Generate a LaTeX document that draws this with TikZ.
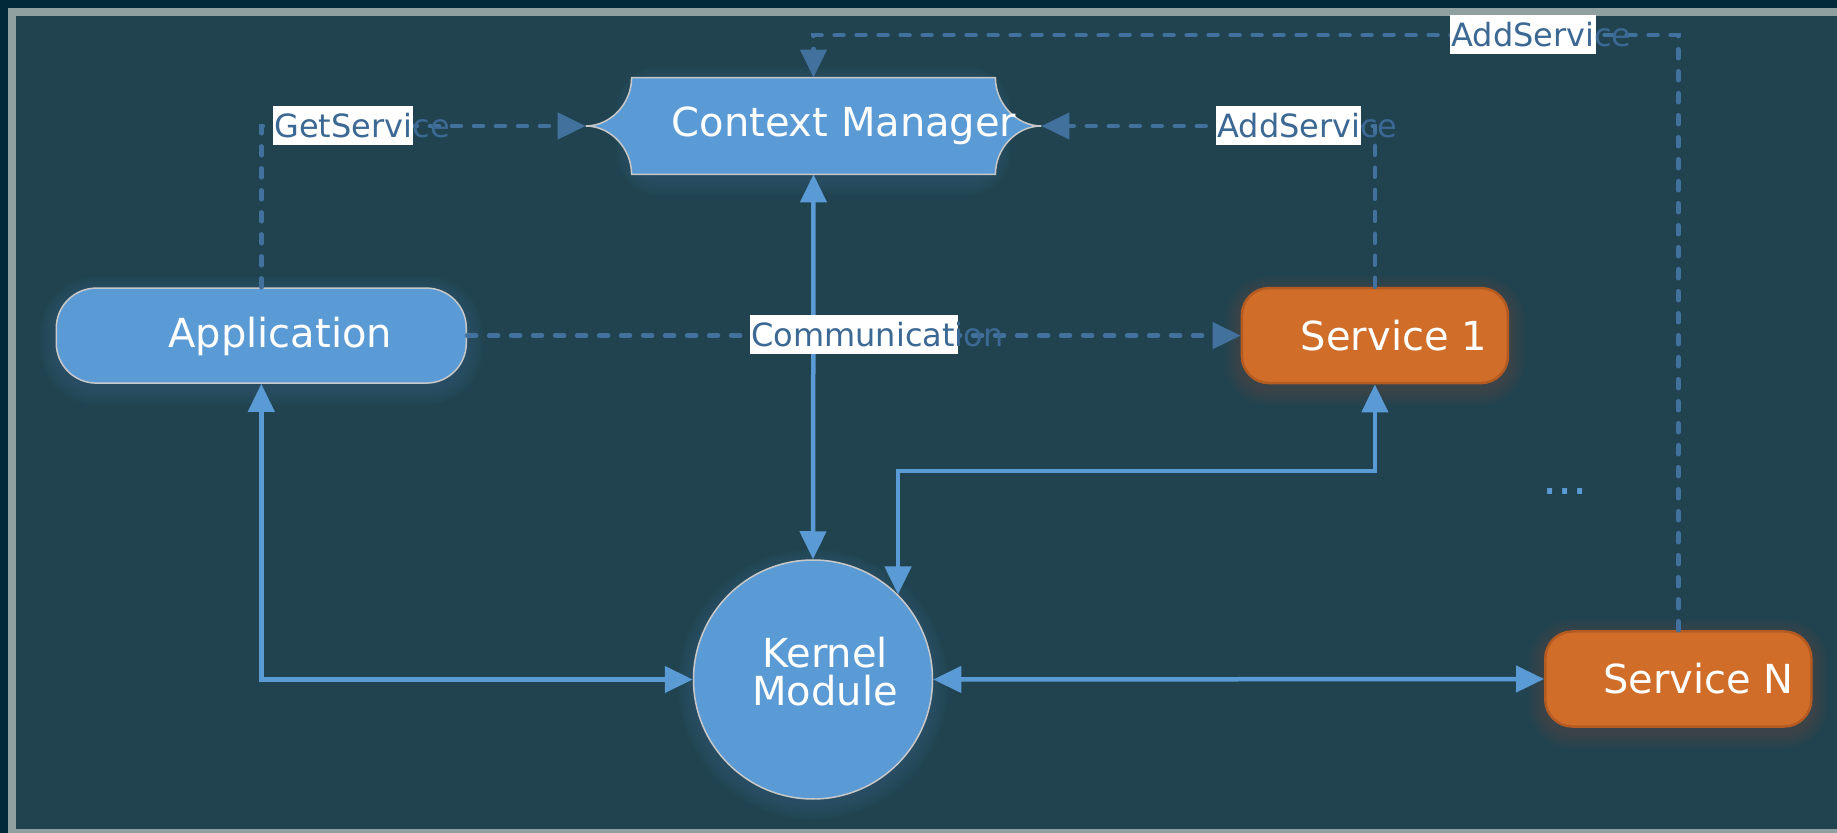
\documentclass[tikz,border=0pt]{standalone}
\usepackage{fontspec}
\setmainfont{DejaVu Sans}
\usetikzlibrary{arrows.meta,calc}
\definecolor{outerbg}{HTML}{02293A}
\definecolor{framegray}{HTML}{909F9F}
\definecolor{innerbg}{HTML}{20434F}
\definecolor{nodeblue}{HTML}{5B9BD5}
\definecolor{nodeedge}{HTML}{C8C8C8}
\definecolor{orangefill}{HTML}{D06D29}
\definecolor{orangeedge}{HTML}{B55B22}
\definecolor{dashblue}{HTML}{41719C}
\definecolor{labtext}{HTML}{3C6894}
\pgfdeclarelayer{bg}
\pgfdeclarelayer{shp}
\pgfsetlayers{bg,shp,main}
\begin{document}
\begin{tikzpicture}[x=0.5pt,y=-0.5pt,
  bigfont/.style={font=\fontsize{20}{19}\selectfont},
  bluebox/.style={draw=nodeedge, line width=0.75pt, fill=nodeblue, text=white, bigfont,
    rounded corners=20pt, minimum width=205pt, minimum height=47.5pt, inner sep=0pt},
  orangebox/.style={draw=orangeedge, line width=1.25pt, fill=orangefill, text=white, bigfont,
    rounded corners=13.5pt, minimum width=133pt, minimum height=47.5pt, inner sep=0pt},
  kernelnode/.style={circle, draw=nodeedge, line width=0.75pt, fill=nodeblue, text=white, bigfont,
    minimum size=119.5pt, inner sep=0pt, align=center, text depth=7.7pt},
  cmnode/.style={rectangle, draw=none, text=white, bigfont, minimum width=227.5pt, minimum height=48pt, inner sep=0pt},
  cmshape/.style={draw=nodeedge, line width=0.75pt, fill=nodeblue},
  glowfill/.style={fill=#1, opacity=0.024},
  solidc/.style={draw=nodeblue, line width=2.25pt, {Triangle[length=14pt,width=13pt]}-{Triangle[length=14pt,width=13pt]}},
  dashc/.style={draw=dashblue, line width=2.25pt, line cap=round, dash pattern=on 4.5pt off 6.5pt, -{Triangle[length=14pt,width=13pt]}},
  lab/.style={fill=white, text=labtext, font=\fontsize{16}{19}\selectfont, inner xsep=0.5pt, inner ysep=0pt,
    minimum height=19.5pt, anchor=west},
  dotsnode/.style={text=nodeblue, font=\fontsize{24}{24}\selectfont, inner sep=0pt, anchor=base west}
]
\useasboundingbox (0,0) rectangle (1837,833);
\begin{pgfonlayer}{bg}
  \fill[outerbg] (0,0) rectangle (1837,833);
  \draw[framegray, line width=4pt, fill=innerbg] (12,12) rectangle (1845,833);
\end{pgfonlayer}

% nodes
\node[cmnode] (cm) at (813.5,126) {\hspace*{30.5pt}Context Manager};
\begin{pgfonlayer}{shp}
\path[cmshape] ($(cm.north west)+(46,0)$) -- ($(cm.north east)+(-46,0)$)
  .. controls +(0,26) and +(-25,0) .. (cm.east)
  .. controls +(-25,0) and +(0,-26) .. ($(cm.south east)+(-46,0)$)
  -- ($(cm.south west)+(46,0)$)
  .. controls +(0,-26) and +(25,0) .. (cm.west)
  .. controls +(25,0) and +(0,26) .. ($(cm.north west)+(46,0)$) -- cycle;
\end{pgfonlayer}
\node[bluebox, text depth=3.7pt] (app) at (261.3,335.6) {\hspace*{19pt}Application};
\node[orangebox] (s1) at (1374.9,335.6) {\hspace*{19pt}Service 1};
\node[orangebox] (sn) at (1678.3,679) {\hspace*{20pt}Service N};
\node[kernelnode] (km) at (813,679.5) {\hspace*{12pt}Kernel\\\hspace*{12pt}Module};
\node[dotsnode] (dots) at (1542,495) {...};

% soft glow below the shapes
\begin{pgfonlayer}{bg}
\foreach \k in {1,...,8} {
  \pgfmathsetmacro{\ra}{20+\k}
  \pgfmathsetmacro{\rb}{13.5+\k}
  \pgfmathsetmacro{\rc}{119.5+2*\k}
  \fill[glowfill=nodeblue, rounded corners=\ra pt]
    ($(app.north west)+(-2*\k,-2*\k+5)$) rectangle ($(app.south east)+(2*\k,2*\k+5)$);
  \fill[glowfill=orangefill, rounded corners=\rb pt]
    ($(s1.north west)+(-2*\k,-2*\k+5)$) rectangle ($(s1.south east)+(2*\k,2*\k+5)$);
  \fill[glowfill=orangefill, rounded corners=\rb pt]
    ($(sn.north west)+(-2*\k,-2*\k+5)$) rectangle ($(sn.south east)+(2*\k,2*\k+5)$);
  \fill[glowfill=nodeblue] ($(km.center)+(0,5)$) circle[radius=\rc];
  \fill[glowfill=nodeblue, rounded corners=\rb pt]
    ($(cm.north west)+(46-2*\k,-2*\k+5)$) rectangle ($(cm.south east)+(-46+2*\k,2*\k+5)$);
}
\end{pgfonlayer}

% connectors
\coordinate (topy) at (813.5,35);
\coordinate (jn) at (1100,471);
\draw[dashc] (app.north) |- (cm.west);
\draw[dashc] (s1.north) |- (cm.east);
\draw[dashc] (sn.north) |- (topy) -- (cm.north);
\draw[dashc] (app.east) -- (s1.west);
\draw[solidc] (cm.south) -- (km.north);
\draw[solidc] (app.south) |- (km.west);
\draw[solidc] (km.north east) -- (km.north east |- jn) -| (s1.south);
\draw[solidc] (km.east) -- (sn.west);

% labels
\node[lab] (lg) at (273,125.5) {\rlap{GetService}\hspace*{69pt}};
\node[lab] (la1) at (1216,126) {\rlap{AddService}\hspace*{71.5pt}};
\node[lab] (la2) at (1450,35) {\rlap{AddService}\hspace*{72pt}};
\node[lab] (lc) at (750,335) {\rlap{Communication}\hspace*{103pt}};
\end{tikzpicture}
\end{document}
